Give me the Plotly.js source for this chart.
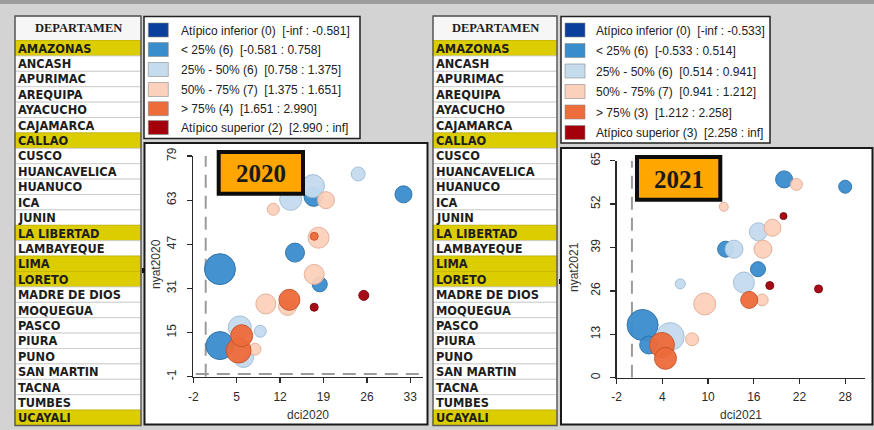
<!DOCTYPE html>
<html><head><meta charset="utf-8">
<script src="https://cdn.plot.ly/plotly-3.0.1.min.js"></script>
<style>html,body{margin:0;padding:0;background:#d3d3d3;overflow:hidden}#chart{width:874px;height:430px}</style>
</head><body><div id="chart"></div>
<script>
// ---------------- DATA ----------------
const departamentos = ["AMAZONAS","ANCASH","APURIMAC","AREQUIPA","AYACUCHO","CAJAMARCA","CALLAO","CUSCO","HUANCAVELICA","HUANUCO","ICA","JUNIN","LA LIBERTAD","LAMBAYEQUE","LIMA","LORETO","MADRE DE DIOS","MOQUEGUA","PASCO","PIURA","PUNO","SAN MARTIN","TACNA","TUMBES","UCAYALI"];
const seleccionados = ["AMAZONAS","CALLAO","LA LIBERTAD","LIMA","LORETO","UCAYALI"];
const categorias = ["Atípico inferior","< 25%","25% - 50%","50% - 75%","> 75%","Atípico superior"];
const conteos2020 = [0,6,6,7,4,2];
const rangos2020 = ["-inf : -0.581","-0.581 : 0.758","0.758 : 1.375","1.375 : 1.651","1.651 : 2.990","2.990 : inf"];
const conteos2021 = [0,6,6,7,3,3];
const rangos2021 = ["-inf : -0.533","-0.533 : 0.514","0.514 : 0.941","0.941 : 1.212","1.212 : 2.258","2.258 : inf"];

const dci2020  = [24.6,31.9,17.3,17.4,13.7,19.4,10.9,18.2,17.5,14.4,2.3,17.5,18.4,25.5,17.5,9.7,13.5,13.2,2.3,5.5,5.8,5.3,6.1,7.95,8.8];
const nyat2020 = [72.5,65.1,68.1,64.2,63.3,63.0,59.7,49.4,49.9,44.0,38.0,36.1,32.5,28.5,24.2,25.4,26.9,24.5,10.3,16.9,13.9,8.5,6.0,9.0,15.5];
const tam2020  = [14,17,23,19,22,17,12,21,8,19,31,20,15,10,8,20,21,18,28,23,22,25,20,12,12];
const cat2020  = [2,1,2,1,2,3,3,3,4,1,1,3,1,5,5,3,4,3,1,2,4,4,2,3,2];

const dci2021  = [19.98,21.6,28.0,12.06,19.9,18.45,16.6,12.3,13.4,17.2,16.55,6.35,14.7,18.1,24.5,9.56,15.4,17.1,1.4,5.03,7.9,2.2,3.94,4.4,4.3];
const nyat2021 = [59.4,57.9,57.2,51.2,48.4,44.9,43.7,38.5,38.5,38.5,32.5,28.1,28.5,27.6,26.6,22.1,23.3,23.3,15.8,12.3,11.5,9.8,9.8,5.8,8.5];
const tam2021  = [17,12,13,9,7,17,18,16,18,18,15,10,21,8,8,22,17,12,31,28,13,18,25,22,14];
const cat2021  = [1,3,1,3,5,3,2,1,2,3,1,2,2,5,5,3,4,3,1,2,3,1,4,4,2];

// ---------------- STYLE ----------------
const FILL = ["#0b3f9c","#3a8dcd","#c5dcef","#fcd1bc","#ee6b3a","#a3000b"];
const EDGE = ["#08306b","#2a6fa8","#9fbdd8","#e5ae95","#c4532b","#780008"];
const W = 874, H = 430;
const fx = p => p / W, fy = p => 1 - p / H;
const esc = s => s.replace(/</g,"&lt;").replace(/>/g,"&gt;");

const shapes = [], annotations = [];
function rect(x0,y0,x1,y1,fill,lc,lw,layer){
  shapes.push({type:"rect",xref:"paper",yref:"paper",x0:fx(x0),x1:fx(x1),y0:fy(y1),y1:fy(y0),
    fillcolor:fill,line:{color:lc||"rgba(0,0,0,0)",width:lw||0},layer:layer||"below"});
}
function txt(x,y,s,o){
  o=o||{};
  annotations.push(Object.assign({xref:"paper",yref:"paper",x:fx(x),y:fy(y),text:s,showarrow:false,borderpad:0,
    xanchor:o.xa||"left",yanchor:"middle",font:o.font||{family:"Liberation Sans",size:12,color:"#222"}},o.extra||{}));
}

// background strip
rect(0,0,874,4,"#9c9c9c");

// tables
function drawTable(x0,x1){
  const top=16, hb=40.5, rh=15.4;
  rect(x0,top,x1,hb,"#f6f6f6","#9a9a9a",1);
  txt((x0+x1)/2,28.5,"DEPARTAMEN",{xa:"center",font:{family:"Liberation Serif",size:12.5,color:"#1e1e1e",weight:"bold"}});
  departamentos.forEach((d,i)=>{
    const y0=hb+i*rh, y1=y0+rh;
    const sel=seleccionados.includes(d);
    rect(x0,y0,x1,y1,sel?"#dccd00":"#ffffff",sel?"#c9bb00":"#cfcfcf",1);
    txt(x0+1.5,(y0+y1)/2+0.5,d,{font:{family:"DejaVu Sans",size:11.4,color:"#1d1d1d",weight:"bold"}});
  });
  rect(x0,top,x1,hb+25*rh,"rgba(0,0,0,0)","#5a5a5a",1.4);
}
drawTable(15,141);
drawTable(433,557);

// legends
function drawLegend(x0,x1,y0,y1,sw,tx,rows,cnt,rng){
  rect(x0,y0,x1,y1,"#ffffff","#222",1.5);
  rows.forEach((c,i)=>{
    rect(sw,c-7,sw+20,c+7,FILL[i],"#8a8a8a",0.6);
    txt(tx,c+0.5,esc(categorias[i]+" ("+cnt[i]+")")+"&nbsp;&nbsp;["+rng[i]+"]");
  });
}
drawLegend(144,360,16.5,138.5,148.3,180,[30,49.5,69.5,89.5,108.7,127.5],conteos2020,rangos2020);
drawLegend(561,770,16.5,143,565,595,[30,50.5,71,91.5,112,132.5],conteos2021,rangos2021);

// plot frames
rect(144.5,143,427.5,424.5,"#ffffff","#1a1a1a",2);
rect(561,148,872.5,424.5,"#ffffff","#1a1a1a",2);
rect(142,268,145,273,"#111");
rect(559,279,562,284,"#111");

// dashed reference lines (data coordinates)
const DASH = {color:"#9b9b9b",width:2,dash:"13px,8px"};
shapes.push({type:"line",xref:"x",yref:"y",x0:0,x1:0,y0:-1,y1:79,line:DASH,layer:"below"});
shapes.push({type:"line",xref:"x",yref:"y",x0:-1.6,x1:34.6,y0:0,y1:0,line:DASH,layer:"below"});
shapes.push({type:"line",xref:"x2",yref:"y2",x0:0,x1:0,y0:0,y1:65,line:DASH,layer:"below"});

// year boxes
function yearBox(x0,y0,x1,y1,s){
  shapes.push({type:"rect",xref:"paper",yref:"paper",x0:fx(x0),x1:fx(x1),y0:fy(y1),y1:fy(y0),
    fillcolor:"#ffa600",line:{color:"#0d0d0d",width:4},layer:"above"});
  txt((x0+x1)/2,(y0+y1)/2+1,s,{xa:"center",font:{family:"Liberation Serif",size:25,color:"#1a1a1a",weight:"bold"}});
}
yearBox(218.7,152,303,193.7,"2020");
yearBox(637,157,720.3,199.7,"2021");

// axis titles
const AT={family:"Liberation Sans",size:12,color:"#333"};
txt(308,415,"dci2020",{xa:"center",font:AT});
txt(156,264,"nyat2020",{xa:"center",font:AT,extra:{textangle:-90}});
txt(740.7,415,"dci2021",{xa:"center",font:AT});
txt(574,267,"nyat2021",{xa:"center",font:AT,extra:{textangle:-90}});

// traces: drawn by category (low to high), larger bubbles first within a category
function trace(xs,ys,sz,cat,xa,ya){
  const idx=xs.map((_,i)=>i).sort((a,b)=>(cat[a]-cat[b])||(sz[b]-sz[a]));
  return {type:"scatter",mode:"markers",xaxis:xa,yaxis:ya,cliponaxis:false,hoverinfo:"skip",showlegend:false,
    x:idx.map(i=>xs[i]),y:idx.map(i=>ys[i]),
    marker:{size:idx.map(i=>sz[i]),color:idx.map(i=>FILL[cat[i]]),opacity:0.95,
      line:{color:idx.map(i=>EDGE[cat[i]]),width:1}}};
}
const data=[trace(dci2020,nyat2020,tam2020,cat2020,"x","y"),
            trace(dci2021,nyat2021,tam2021,cat2021,"x2","y2")];

const TF={family:"Liberation Sans",size:12,color:"#2b2b2b"};
function ax(domain,range,tv,anchor,isY){
  return {domain:domain,range:range,tickvals:tv,ticktext:tv.map(String),anchor:anchor,showgrid:false,zeroline:false,
    showline:true,linecolor:"#2a2a2a",linewidth:1.3,ticks:"outside",ticklen:5,tickwidth:1.3,tickcolor:"#2a2a2a",
    tickfont:TF,tickangle:isY?-90:0,ticklabelstandoff:isY?6:3,fixedrange:true};
}
const layout={width:W,height:H,margin:{l:0,r:0,t:0,b:0},paper_bgcolor:"#d3d3d3",plot_bgcolor:"rgba(0,0,0,0)",
  showlegend:false,shapes:shapes,annotations:annotations,
  xaxis:ax([fx(193.3),fx(423)],[-2,35.05],[-2,5,12,19,26,33],"y",false),
  yaxis:ax([fy(376.8),fy(156)],[-1,79],[-1,15,31,47,63,79],"x",true),
  xaxis2:ax([fx(616.7),fx(865)],[-2,30.6],[-2,4,10,16,22,28],"y2",false),
  yaxis2:ax([fy(377.7),fy(160.7)],[0,65],[0,13,26,39,52,65],"x2",true)
};
Plotly.newPlot("chart",data,layout,{staticPlot:true,displayModeBar:false});
</script></body></html>
